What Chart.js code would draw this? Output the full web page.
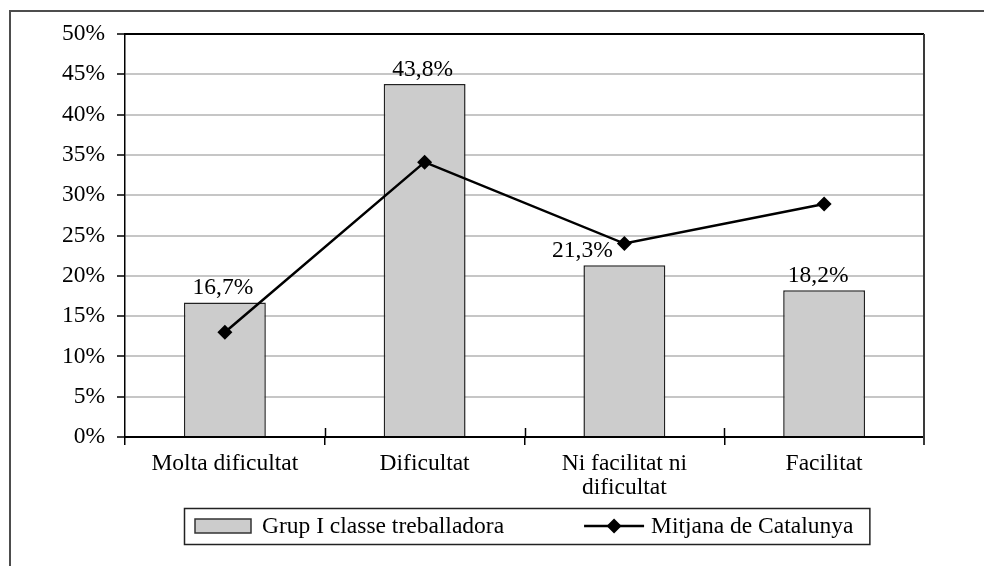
<!DOCTYPE html>
<html>
<head>
<meta charset="utf-8">
<script src="https://cdn.jsdelivr.net/npm/chart.js@4.4.0/dist/chart.umd.min.js"></script>
<style>
  html, body { margin: 0; padding: 0; background: #fff; }
  #wrap { width: 984px; height: 566px; position: relative; }
</style>
</head>
<body>
<div id="wrap"><canvas id="chart"></canvas></div>
<script>
const categories = ['Molta dificultat', 'Dificultat', ['Ni facilitat ni', 'dificultat'], 'Facilitat'];
const grupValues = [16.7, 43.8, 21.3, 18.2];
const mitjanaValues = [13.0, 34.1, 24.0, 28.9];
const yTicks = [0, 5, 10, 15, 20, 25, 30, 35, 40, 45, 50];

const FONT = '"Liberation Serif", "Times New Roman", serif';
const FONT_SIZE = 23.5;
const pct = v => v.toFixed(1).replace('.', ',') + '%';

// outer frame, plot border and the small crossing ticks on the x axis
const framePlugin = {
  id: 'frame',
  beforeDraw(chart) {
    const ctx = chart.ctx;
    ctx.save();
    ctx.strokeStyle = '#4d4d4d';
    ctx.lineWidth = 2;
    ctx.strokeRect(10, 11, 1200, 1200);
    ctx.restore();
  },
  afterDraw(chart) {
    const ctx = chart.ctx;
    const a = chart.chartArea;
    const xs = chart.scales.x;
    ctx.save();
    ctx.strokeStyle = '#000';
    ctx.lineWidth = 2;
    ctx.beginPath();
    ctx.moveTo(a.left, a.top);
    ctx.lineTo(a.right, a.top);
    ctx.stroke();
    ctx.strokeStyle = '#3a3a3a';
    ctx.beginPath();
    ctx.moveTo(a.right, a.top);
    ctx.lineTo(a.right, a.bottom + 8);
    ctx.stroke();
    ctx.strokeStyle = '#000';
    ctx.lineWidth = 1.5;
    for (let i = 1; i < categories.length; i++) {
      const x = Math.round(xs.getPixelForValue(i - 0.5)) + 0.5;
      ctx.beginPath();
      ctx.moveTo(x, a.bottom - 9);
      ctx.lineTo(x, a.bottom);
      ctx.stroke();
    }
    ctx.restore();
  }
};

// value labels above the bars
const labelShift = [-2, -2, -42, -6];
const valueLabels = {
  id: 'valueLabels',
  afterDatasetsDraw(chart) {
    const ctx = chart.ctx;
    const meta = chart.getDatasetMeta(0);
    ctx.save();
    ctx.font = FONT_SIZE + 'px ' + FONT;
    ctx.fillStyle = '#000';
    ctx.textAlign = 'center';
    ctx.textBaseline = 'alphabetic';
    meta.data.forEach((bar, i) => {
      ctx.fillText(pct(grupValues[i]), bar.x + labelShift[i], bar.y - 8);
    });
    ctx.restore();
  }
};

// boxed legend under the axis
const boxLegend = {
  id: 'boxLegend',
  afterDraw(chart) {
    const ctx = chart.ctx;
    const bar = chart.data.datasets[0];
    const line = chart.data.datasets[1];
    const left = 184, top = 508, h = 36;
    const midY = top + h / 2;
    ctx.save();
    ctx.font = FONT_SIZE + 'px ' + FONT;
    ctx.textBaseline = 'middle';
    ctx.textAlign = 'left';
    let x = left + 11;
    ctx.fillStyle = bar.backgroundColor;
    ctx.fillRect(x, midY - 7, 56, 14);
    ctx.strokeStyle = '#333';
    ctx.lineWidth = 1.5;
    ctx.strokeRect(x, midY - 7, 56, 14);
    x += 56 + 11;
    ctx.fillStyle = '#000';
    ctx.fillText(bar.label, x, midY + 1);
    x += ctx.measureText(bar.label).width + 80;
    ctx.strokeStyle = line.borderColor;
    ctx.lineWidth = line.borderWidth;
    ctx.beginPath();
    ctx.moveTo(x, midY);
    ctx.lineTo(x + 60, midY);
    ctx.stroke();
    const cx = x + 30, r = line.pointRadius;
    ctx.fillStyle = line.pointBackgroundColor;
    ctx.beginPath();
    ctx.moveTo(cx, midY - r);
    ctx.lineTo(cx + r, midY);
    ctx.lineTo(cx, midY + r);
    ctx.lineTo(cx - r, midY);
    ctx.closePath();
    ctx.fill();
    x += 60 + 7;
    ctx.fillStyle = '#000';
    ctx.fillText(line.label, x, midY + 1);
    x += ctx.measureText(line.label).width + 16;
    ctx.strokeStyle = '#222';
    ctx.lineWidth = 1.5;
    ctx.strokeRect(left + 0.5, top + 0.5, x - left, h);
    ctx.restore();
  }
};

const ctx = document.getElementById('chart').getContext('2d');
const chart = new Chart(ctx, {
  type: 'bar',
  data: {
    labels: categories,
    datasets: [
      {
        label: 'Grup I classe treballadora',
        data: grupValues,
        backgroundColor: '#cccccc',
        borderColor: '#222',
        borderWidth: 1.5,
        barPercentage: 0.41,
        categoryPercentage: 1,
        order: 2
      },
      {
        type: 'line',
        label: 'Mitjana de Catalunya',
        data: mitjanaValues,
        borderColor: '#000',
        borderWidth: 2.5,
        pointStyle: 'rectRot',
        pointRadius: 7.5,
        pointBackgroundColor: '#000',
        pointBorderColor: '#000',
        pointBorderWidth: 0,
        tension: 0,
        order: 1
      }
    ]
  },
  options: {
    responsive: true,
    maintainAspectRatio: false,
    animation: false,
    layout: { padding: { left: 50, right: 60, top: 34, bottom: 59 } },
    plugins: { legend: { display: false }, tooltip: { enabled: false } },
    scales: {
      x: {
        offset: true,
        grid: { offset: true, drawOnChartArea: false, tickLength: 8, color: '#000', lineWidth: 1.5 },
        border: { color: '#000', width: 2 },
        ticks: { font: { family: FONT, size: FONT_SIZE, lineHeight: 1.03 }, color: '#000', padding: 7, maxRotation: 0, autoSkip: false },
        afterFit: s => { s.height = 70; }
      },
      y: {
        min: 0,
        max: 50,
        afterBuildTicks: s => { s.ticks = yTicks.map(v => ({ value: v })); },
        ticks: { callback: v => v + '%', font: { family: FONT, size: FONT_SIZE }, color: '#000', padding: 12 },
        grid: { color: '#c6c6c6', lineWidth: 2, tickColor: '#000', tickLength: 8, tickWidth: 1.5 },
        border: { color: '#000', width: 1.5 },
        afterFit: s => { s.width = 75; }
      }
    }
  },
  plugins: [framePlugin, valueLabels, boxLegend]
});
</script>
</body>
</html>
